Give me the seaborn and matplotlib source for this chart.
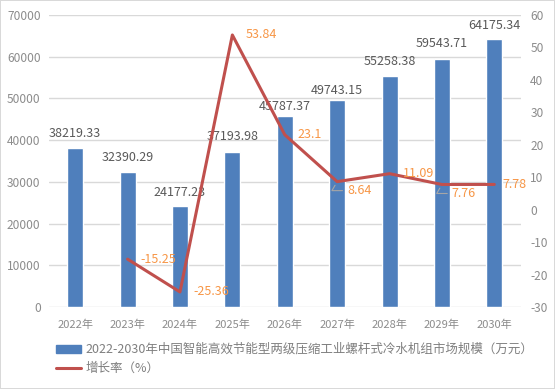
import matplotlib
matplotlib.use("Agg")
import matplotlib.pyplot as plt
import seaborn as sns
import pandas as pd
import numpy as np

years = ["2022年", "2023年", "2024年", "2025年", "2026年", "2027年", "2028年", "2029年", "2030年"]
market = [38219.33, 32390.29, 24177.23, 37193.98, 45787.37, 49743.15, 55258.38, 59543.71, 64175.34]
growth = [None, -15.25, -25.36, 53.84, 23.1, 8.64, 11.09, 7.76, 7.78]
bar_label_text = ["38219.33", "32390.29", "24177.23", "37193.98", "45787.37", "49743.15", "55258.38", "59543.71", "64175.34"]
growth_label_text = ["", "-15.25", "-25.36", "53.84", "23.1", "8.64", "11.09", "7.76", "7.78"]
bar_name = "2022-2030年中国智能高效节能型两级压缩工业螺杆式冷水机组市场规模（万元）"
line_name = "增长率（%）"
left_ticks = [0, 10000, 20000, 30000, 40000, 50000, 60000, 70000]
right_ticks = [-30, -20, -10, 0, 10, 20, 30, 40, 50, 60]

sns.set_theme(style="white")
plt.rcParams['font.family'] = ['Noto Sans CJK SC', 'DejaVu Sans']

BAR = "#4F7FBC"
LINE = "#C0504D"
ORANGE = "#F79646"
TICK = "#8C8C8C"
LABEL = "#595959"
GRID = "#D9D9D9"

df = pd.DataFrame({"year": years, "market": market})
gdf = pd.DataFrame({"pos": np.arange(len(years)), "growth": growth}).dropna()

fig = plt.figure(figsize=(5.55, 3.89), dpi=100)
fig.patch.set_facecolor("white")
fig.patch.set_edgecolor("#D9D9D9")
fig.patch.set_linewidth(1.2)
ax = fig.add_axes([49/555, 1-307/389, (520.5-49)/555, (307-15)/389])

sns.barplot(data=df, x="year", y="market", color=BAR, width=0.305, ax=ax,
            saturation=1, label=bar_name)
ax.set_xlim(-0.5, len(years)-0.5)
ax.set_ylim(0, 70000)
ax.set_yticks(left_ticks)
ax.set_yticklabels([str(t) for t in left_ticks])
ax.set_xlabel("")
ax.set_ylabel("")
ax.yaxis.grid(True, color=GRID, linewidth=1)
ax.set_axisbelow(True)
for s in ax.spines.values():
    s.set_visible(False)
ax.tick_params(axis="y", length=0, labelsize=8.6, labelcolor=TICK, pad=6)
ax.tick_params(axis="x", length=0, labelsize=8, labelcolor=TICK, pad=9)

bar_offsets = [14, 14, 14, 15, 10, 9, 15, 15, 14]
for i, (v, t) in enumerate(zip(market, bar_label_text)):
    ax.annotate(t, (i, v), xytext=(0, bar_offsets[i]), textcoords="offset pixels",
                ha="center", va="center", fontsize=9, color=LABEL)

ax2 = ax.twinx()
sns.lineplot(data=gdf, x="pos", y="growth", color=LINE, linewidth=2.2, ax=ax2,
             label=line_name, legend=False)
ax2.set_ylim(-30, 60)
ax2.set_yticks(right_ticks)
ax2.set_yticklabels([str(t) for t in right_ticks])
ax2.set_ylabel("")
ax2.set_xlabel("")
for s in ax2.spines.values():
    s.set_visible(False)
ax2.tick_params(axis="y", length=0, labelsize=8.6, labelcolor=TICK, pad=7)
ax2.grid(False)
ax.set_xlim(-0.5, len(years)-0.5)

label_dx = [0, 13, 13, 13, 13, 10, 13, 10, 8]
for i, (v, t) in enumerate(zip(growth, growth_label_text)):
    if v is None:
        continue
    if t in ("8.64", "7.76"):
        ax2.annotate(t, (i, v), xytext=(label_dx[i], -9), textcoords="offset pixels",
                     ha="left", va="center", fontsize=9, color=ORANGE,
                     arrowprops=dict(arrowstyle="-", color="#A6A6A6", lw=0.8,
                                     shrinkA=1, shrinkB=3,
                                     connectionstyle="angle,angleA=0,angleB=60,rad=0"))
    else:
        ax2.annotate(t, (i, v), xytext=(label_dx[i], 0), textcoords="offset pixels",
                     ha="left", va="center", fontsize=9, color=ORANGE)

handles = [plt.Rectangle((0, 0), 1, 1, color=BAR),
           plt.Line2D([0], [0], color=LINE, linewidth=2.2)]
fig.legend(handles, [bar_name, line_name], loc="upper left",
           bbox_to_anchor=(51/555, 1-338/389), frameon=False, fontsize=9,
           labelcolor="#7F7F7F", handlelength=2.0, handleheight=0.6,
           handletextpad=0.35, labelspacing=0.5, borderaxespad=0)
if ax.get_legend() is not None:
    ax.get_legend().remove()

fig.savefig("out.png", dpi=100, facecolor="white", edgecolor="#D9D9D9")
